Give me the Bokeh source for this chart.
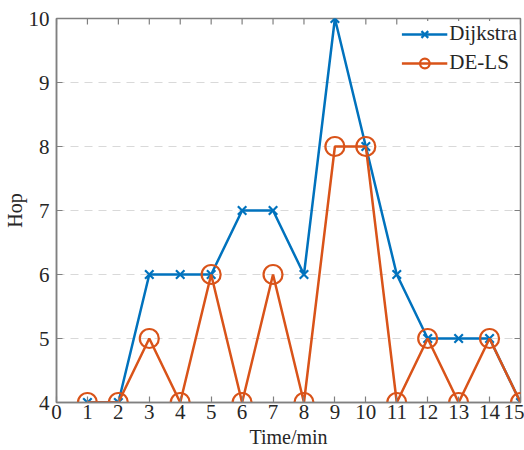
import math
from bokeh.plotting import figure
from bokeh.models import Range1d, Legend, LegendItem, FixedTicker
from bokeh.embed import file_html
from bokeh.resources import INLINE

time_min = [1, 2, 3, 4, 5, 6, 7, 8, 9, 10, 11, 12, 13, 14, 15]
dijkstra = [4, 4, 6, 6, 6, 7, 7, 6, 10, 8, 6, 5, 5, 5, 4]
de_ls = [4, 4, 5, 4, 6, 4, 6, 4, 8, 8, 4, 5, 4, 5, 4]
x_ticks = list(range(0, 16))
y_ticks = [4, 5, 6, 7, 8, 9, 10]
x_max = 15
y_max = 10

BLUE = "#0072BD"
ORANGE = "#D95319"
AX = "#808080"
TXT = "#262626"
FONT = "Liberation Serif"

p = figure(width=524, height=450, output_backend="svg", toolbar_location=None,
           x_range=Range1d(0, 15), y_range=Range1d(4, 10),
           min_border_left=10, min_border_right=4, min_border_top=18, min_border_bottom=5)
p.background_fill_color = "white"
p.border_fill_color = "white"
p.outline_line_color = AX
p.outline_line_width = 1.5

p.xgrid.grid_line_color = None
p.ygrid.grid_line_color = "#d9d9d9"
p.ygrid.grid_line_dash = "8 6"
p.ygrid.grid_line_width = 1.2

for ax in (p.xaxis[0], p.yaxis[0]):
    ax.axis_line_color = AX
    ax.axis_line_width = 1.5
    ax.major_tick_line_color = AX
    ax.major_tick_line_width = 1.2
    ax.major_tick_in = 6
    ax.major_tick_out = 0
    ax.minor_tick_line_color = None
    ax.major_label_text_font = FONT
    ax.major_label_text_font_size = "21px"
    ax.major_label_text_font_style = "normal"
    ax.major_label_text_color = TXT
    ax.axis_label_text_font = FONT
    ax.axis_label_text_font_size = "20px"
    ax.axis_label_text_font_style = "normal"
    ax.axis_label_text_color = TXT

p.xaxis[0].ticker = FixedTicker(ticks=x_ticks)
p.yaxis[0].ticker = FixedTicker(ticks=y_ticks)
p.xaxis[0].axis_label = "Time/min"
p.yaxis[0].axis_label = "Hop"
p.xaxis[0].major_label_standoff = 2
p.xaxis[0].axis_label_standoff = 4
p.yaxis[0].major_label_standoff = 7
p.yaxis[0].axis_label_standoff = 0

# inward ticks on the top and right frame edges (clipped to the frame)
p.scatter(x_ticks, [y_max] * len(x_ticks), marker="dash", angle=math.pi / 2, size=12,
          line_color=AX, line_width=1.2)
p.scatter([x_max] * len(y_ticks), y_ticks, marker="dash", size=12,
          line_color=AX, line_width=1.2)

l1 = p.line(time_min, dijkstra, line_color=BLUE, line_width=2.5)
s1 = p.scatter(time_min, dijkstra, marker="x", size=12, line_color=BLUE, line_width=2.2)
l2 = p.line(time_min, de_ls, line_color=ORANGE, line_width=2.5)
s2 = p.scatter(time_min, de_ls, marker="circle", size=19, line_color=ORANGE,
               fill_color=None, line_width=2.2)

legend = Legend(items=[LegendItem(label="Dijkstra", renderers=[l1, s1]),
                       LegendItem(label="DE-LS", renderers=[l2, s2])],
                location="top_right")
legend.label_text_font = FONT
legend.label_text_font_size = "21px"
legend.label_text_color = TXT
legend.glyph_width = 46
legend.glyph_height = 24
legend.label_standoff = 2
legend.spacing = 4
legend.padding = 2
legend.margin = 3
legend.border_line_color = None
legend.background_fill_color = "white"
legend.background_fill_alpha = 1.0
p.add_layout(legend)

open("out.html", "w").write(file_html(p, INLINE))
